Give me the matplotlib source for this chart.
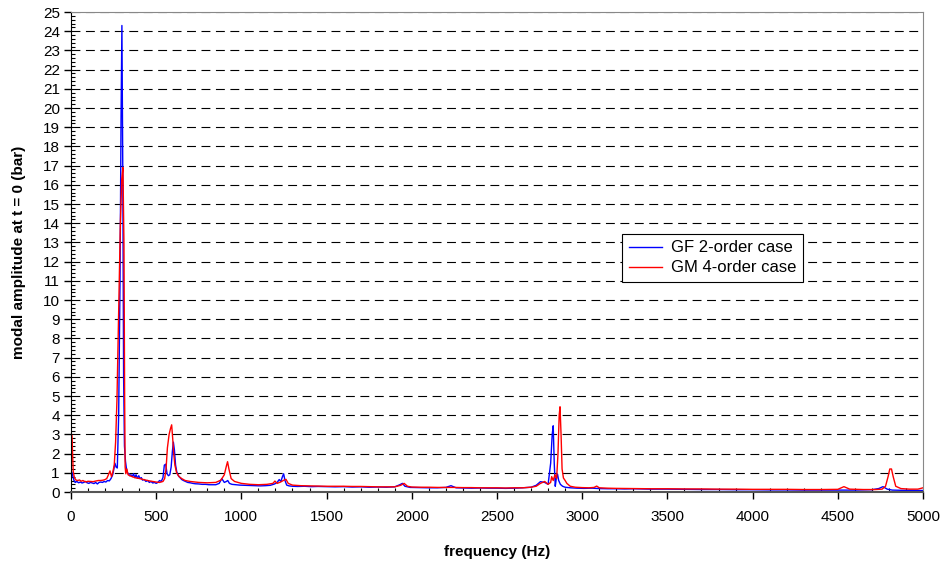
import matplotlib
matplotlib.use('Agg')
import matplotlib.pyplot as plt
from matplotlib.ticker import MultipleLocator

plt.rcParams['font.family'] = ['Liberation Sans', 'DejaVu Sans']

# GF 2-order case (blue)
gf_freq = [0, 5, 10, 18, 25, 35, 45, 55, 65, 75,
           85, 95, 105, 115, 125, 135, 145, 155, 165, 175,
           185, 195, 205, 215, 225, 235, 245, 252, 258, 265,
           272, 280, 288, 294, 299, 304, 309, 314, 320, 326,
           332, 338, 345, 352, 360, 367, 375, 382, 390, 398,
           405, 413, 420, 430, 440, 450, 460, 470, 480, 490,
           500, 510, 520, 530, 540, 548, 556, 564, 572, 580,
           588, 595, 601, 607, 614, 621, 630, 640, 650, 660,
           672, 685, 700, 715, 730, 750, 770, 790, 810, 830,
           850, 870, 885, 900, 912, 920, 930, 945, 965, 990,
           1020, 1050, 1080, 1110, 1140, 1170, 1195, 1210, 1222, 1232,
           1241, 1248, 1256, 1266, 1280, 1300, 1330, 1370, 1410, 1450,
           1500, 1550, 1600, 1650, 1700, 1750, 1800, 1850, 1900, 1930,
           1945, 1960, 1990, 2050, 2100, 2150, 2200, 2230, 2260, 2300,
           2350, 2400, 2450, 2500, 2550, 2600, 2650, 2700, 2730, 2755,
           2780, 2800, 2815, 2824, 2830, 2836, 2842, 2848, 2855, 2862,
           2872, 2885, 2900, 2930, 2970, 3010, 3060, 3100, 3150, 3200,
           3250, 3300, 3400, 3500, 3600, 3700, 3800, 3900, 4000, 4100,
           4200, 4300, 4400, 4500, 4600, 4700, 4740, 4765, 4790, 4820,
           4870, 4920, 4970, 5000]
gf_amp = [1.0, 1.05, 0.85, 0.6, 0.5, 0.55, 0.48, 0.52, 0.47, 0.5,
          0.55, 0.48, 0.45, 0.5, 0.47, 0.44, 0.5, 0.42, 0.5, 0.52,
          0.5, 0.55, 0.52, 0.6, 0.58, 0.7, 0.9, 1.2, 1.5, 1.3,
          1.25, 4.0, 11.0, 19.5, 24.3, 17.0, 6.0, 2.4, 1.6, 1.2,
          1.0, 0.95, 0.85, 0.9, 0.8, 0.95, 0.75, 0.9, 0.72, 0.85,
          0.7, 0.75, 0.62, 0.65, 0.55, 0.6, 0.5, 0.55, 0.47, 0.5,
          0.45, 0.5, 0.6, 0.55, 0.75, 1.4, 1.45, 0.95, 0.85, 0.9,
          1.3, 2.1, 2.6, 2.2, 1.4, 1.05, 0.85, 0.75, 0.65, 0.6,
          0.55, 0.5, 0.48, 0.45, 0.43, 0.42, 0.4, 0.4, 0.38, 0.38,
          0.38, 0.45, 0.7, 0.5, 0.55, 0.6, 0.45, 0.4, 0.38, 0.36,
          0.35, 0.34, 0.33, 0.32, 0.33, 0.35, 0.42, 0.5, 0.65, 0.55,
          0.8, 0.95, 0.6, 0.36, 0.32, 0.3, 0.29, 0.3, 0.28, 0.29,
          0.28, 0.27, 0.28, 0.26, 0.27, 0.25, 0.26, 0.25, 0.27, 0.38,
          0.45, 0.3, 0.24, 0.23, 0.22, 0.22, 0.24, 0.33, 0.22, 0.21,
          0.2, 0.21, 0.2, 0.2, 0.19, 0.2, 0.22, 0.25, 0.35, 0.54,
          0.5, 0.4, 1.5, 3.0, 3.45, 1.5, 0.3, 0.7, 0.94, 0.6,
          0.4, 0.3, 0.25, 0.22, 0.2, 0.19, 0.2, 0.18, 0.17, 0.17,
          0.16, 0.17, 0.15, 0.15, 0.14, 0.13, 0.13, 0.12, 0.12, 0.11,
          0.11, 0.1, 0.1, 0.1, 0.1, 0.12, 0.18, 0.28, 0.15, 0.1,
          0.09, 0.09, 0.08, 0.08]

# GM 4-order case (red)
gm_freq = [0, 4, 8, 13, 20, 30, 40, 50, 60, 70,
           80, 90, 100, 115, 130, 145, 160, 175, 190, 200,
           210, 220, 229, 238, 246, 254, 262, 270, 280, 290,
           298, 305, 311, 315, 318, 322, 328, 335, 345, 360,
           375, 390, 405, 420, 440, 460, 480, 500, 520, 540,
           550, 558, 566, 576, 584, 591, 597, 603, 610, 620,
           635, 650, 670, 700, 750, 800, 850, 880, 900, 912,
           919, 927, 940, 960, 1000, 1050, 1100, 1150, 1185, 1197,
           1210, 1230, 1250, 1262, 1275, 1300, 1350, 1400, 1450, 1500,
           1550, 1600, 1650, 1700, 1750, 1800, 1850, 1900, 1935, 1955,
           1975, 2000, 2050, 2100, 2150, 2200, 2250, 2300, 2350, 2400,
           2450, 2500, 2550, 2600, 2650, 2700, 2730, 2755, 2780, 2800,
           2815, 2821, 2830, 2840, 2850, 2858, 2865, 2870, 2876, 2882,
           2890, 2900, 2910, 2930, 2960, 3000, 3040, 3070, 3085, 3100,
           3150, 3200, 3300, 3400, 3500, 3600, 3700, 3800, 3900, 4000,
           4100, 4200, 4300, 4400, 4500, 4536, 4570, 4650, 4720, 4760,
           4780, 4795, 4805, 4815, 4825, 4840, 4870, 4920, 4970, 5000]
gm_amp = [0.8, 2.97, 2.4, 1.1, 0.75, 0.62, 0.6, 0.63, 0.56, 0.6,
          0.55, 0.53, 0.56, 0.55, 0.54, 0.57, 0.6, 0.6, 0.62, 0.65,
          0.7, 0.9, 1.1, 0.8, 1.05, 1.4, 2.6, 4.8, 9.5, 14.0,
          16.3, 16.9, 13.0, 5.0, 1.3, 0.95, 1.2, 0.9, 0.85, 0.8,
          0.75, 0.72, 0.7, 0.66, 0.62, 0.58, 0.55, 0.52, 0.5, 0.55,
          0.7, 1.2, 2.3, 3.0, 3.3, 3.5, 2.8, 2.0, 1.4, 1.0,
          0.8, 0.7, 0.6, 0.55, 0.5, 0.48, 0.5, 0.62, 0.9, 1.35,
          1.58, 1.2, 0.7, 0.55, 0.45, 0.4, 0.38, 0.4, 0.45, 0.57,
          0.45, 0.52, 0.62, 0.66, 0.45, 0.36, 0.33, 0.32, 0.31, 0.3,
          0.3, 0.3, 0.29, 0.29, 0.28, 0.27, 0.27, 0.27, 0.35, 0.45,
          0.3, 0.26, 0.25, 0.25, 0.24, 0.24, 0.24, 0.23, 0.23, 0.22,
          0.22, 0.22, 0.21, 0.22, 0.22, 0.25, 0.3, 0.45, 0.55, 0.4,
          0.5, 0.8, 0.6, 0.9, 0.7, 2.0, 4.0, 4.44, 3.0, 1.2,
          0.73, 0.6, 0.45, 0.3, 0.25, 0.23, 0.22, 0.24, 0.31, 0.22,
          0.2, 0.19, 0.18, 0.17, 0.17, 0.16, 0.16, 0.15, 0.15, 0.14,
          0.14, 0.14, 0.13, 0.13, 0.14, 0.28, 0.15, 0.13, 0.13, 0.15,
          0.3, 0.8, 1.2, 1.2, 0.8, 0.3, 0.18, 0.15, 0.15, 0.22]

fig = plt.figure(figsize=(9.46, 5.66), dpi=100)
ax = fig.add_axes([0.075, 0.1307, 0.9007, 0.848])

ax.plot(gf_freq, gf_amp, color='#0000ff', lw=1.0, label='GF 2-order case')
ax.plot(gm_freq, gm_amp, color='#ff0000', lw=1.0, label='GM 4-order case')

ax.set_xlim(0, 5000)
ax.set_ylim(0, 25)
ax.xaxis.set_major_locator(MultipleLocator(500))
ax.xaxis.set_minor_locator(MultipleLocator(100))
ax.yaxis.set_major_locator(MultipleLocator(1))
ax.yaxis.set_minor_locator(MultipleLocator(0.2))
ax.tick_params(which='major', direction='out', length=5, width=1, labelsize=11, pad=8)
ax.tick_params(which='minor', direction='in', length=3, width=0.8)
ax.tick_params(axis='y', which='major', pad=3)

ax.yaxis.grid(True, which='major', color='black', lw=0.8, linestyle=(0, (8, 5)))
ax.set_axisbelow(True)

ax.spines['left'].set_color('black')
ax.spines['bottom'].set_color('#555555')
ax.spines['bottom'].set_linewidth(1.5)
ax.spines['right'].set_color('#888888')
ax.spines['top'].set_color('#888888')

ax.set_xlabel('frequency (Hz)', fontsize=11, fontweight='bold', labelpad=15)
ax.set_ylabel('modal amplitude at t = 0 (bar)', fontsize=11, fontweight='bold', labelpad=12)

leg = ax.legend(loc='lower left', bbox_to_anchor=(0.647, 0.4375), fontsize=12,
                fancybox=False, framealpha=1, edgecolor='black', handlelength=2.0,
                borderpad=0.4, labelspacing=0.3, handletextpad=0.5, borderaxespad=0)
leg.get_frame().set_linewidth(0.8)

fig.savefig('out.png', dpi=100)
